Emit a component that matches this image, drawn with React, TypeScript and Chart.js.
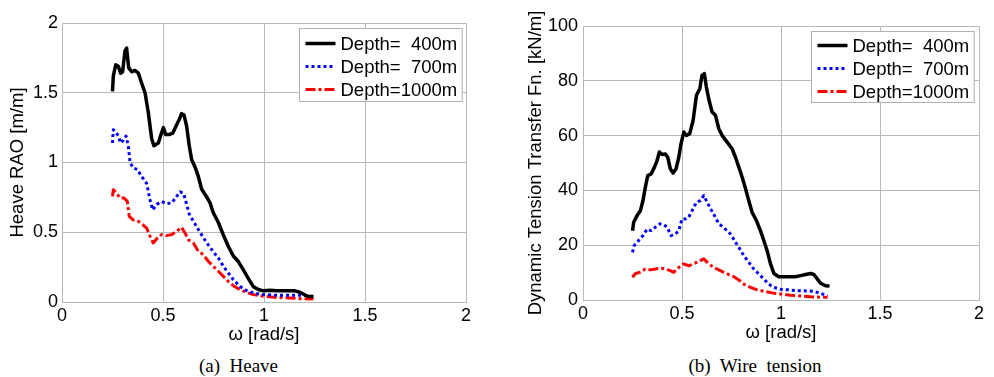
import React, { useEffect, useRef } from 'react';
import { Chart, registerables } from 'chart.js';

Chart.register(...registerables);

const FONT = '"Liberation Sans", Arial, Helvetica, sans-serif';

// ---------- DATA ----------
const seriesLabels = ['Depth=  400m', 'Depth=  700m', 'Depth=1000m'];
const xTickValues = [0, 0.5, 1, 1.5, 2];

// (a) Heave RAO [m/m]
const heave400W = [0.25, 0.254, 0.266, 0.279, 0.29, 0.3, 0.312, 0.32, 0.33, 0.345, 0.361, 0.378, 0.394, 0.411, 0.427, 0.444, 0.455, 0.477, 0.49, 0.502, 0.513, 0.53, 0.548, 0.564, 0.581, 0.592, 0.604, 0.617, 0.63, 0.642, 0.658, 0.675, 0.691, 0.713, 0.733, 0.749, 0.774, 0.799, 0.823, 0.848, 0.873, 0.898, 0.922, 0.947, 0.972, 0.997, 1.03, 1.063, 1.112, 1.153, 1.178, 1.203, 1.219, 1.245];
const heave400 = [1.51, 1.62, 1.70, 1.69, 1.64, 1.65, 1.80, 1.82, 1.68, 1.65, 1.66, 1.64, 1.57, 1.50, 1.36, 1.17, 1.12, 1.14, 1.20, 1.25, 1.20, 1.20, 1.21, 1.26, 1.31, 1.35, 1.34, 1.26, 1.12, 1.02, 0.97, 0.90, 0.81, 0.76, 0.71, 0.64, 0.57, 0.48, 0.40, 0.33, 0.29, 0.23, 0.17, 0.11, 0.09, 0.08, 0.085, 0.08, 0.08, 0.08, 0.07, 0.05, 0.04, 0.04];

const heave700W = [0.25, 0.254, 0.266, 0.279, 0.29, 0.304, 0.317, 0.328, 0.337, 0.353, 0.373, 0.394, 0.419, 0.436, 0.449, 0.469, 0.493, 0.518, 0.543, 0.564, 0.584, 0.601, 0.617, 0.63, 0.65, 0.675, 0.7, 0.724, 0.749, 0.774, 0.799, 0.823, 0.848, 0.881, 0.914, 0.947, 0.997, 1.063, 1.129, 1.178, 1.219, 1.245];
const heave700 = [1.14, 1.235, 1.22, 1.19, 1.14, 1.16, 1.19, 1.12, 1.0, 0.96, 0.95, 0.90, 0.85, 0.73, 0.66, 0.70, 0.72, 0.705, 0.71, 0.75, 0.79, 0.78, 0.70, 0.63, 0.58, 0.52, 0.46, 0.41, 0.36, 0.315, 0.256, 0.208, 0.16, 0.112, 0.081, 0.065, 0.053, 0.048, 0.048, 0.048, 0.045, 0.036];

const heave1000W = [0.25, 0.254, 0.271, 0.287, 0.307, 0.323, 0.333, 0.35, 0.37, 0.394, 0.419, 0.436, 0.452, 0.472, 0.493, 0.518, 0.543, 0.568, 0.592, 0.609, 0.625, 0.65, 0.675, 0.7, 0.724, 0.749, 0.774, 0.799, 0.823, 0.848, 0.881, 0.914, 0.947, 0.997, 1.063, 1.129, 1.178, 1.228, 1.245];
const heave1000 = [0.757, 0.805, 0.78, 0.746, 0.746, 0.722, 0.614, 0.59, 0.585, 0.562, 0.53, 0.471, 0.423, 0.459, 0.483, 0.476, 0.483, 0.507, 0.535, 0.495, 0.447, 0.423, 0.363, 0.339, 0.292, 0.256, 0.22, 0.184, 0.148, 0.117, 0.088, 0.069, 0.053, 0.041, 0.033, 0.029, 0.024, 0.022, 0.024];

// (b) Dynamic Tension Transfer Fn. [kN/m]
const tension400W = [0.25, 0.256, 0.273, 0.29, 0.303, 0.315, 0.327, 0.344, 0.361, 0.374, 0.386, 0.399, 0.416, 0.428, 0.441, 0.455, 0.47, 0.484, 0.495, 0.509, 0.522, 0.539, 0.556, 0.573, 0.59, 0.601, 0.613, 0.623, 0.637, 0.652, 0.669, 0.686, 0.703, 0.728, 0.753, 0.77, 0.787, 0.804, 0.821, 0.837, 0.854, 0.876, 0.896, 0.913, 0.93, 0.947, 0.964, 0.989, 1.031, 1.073, 1.099, 1.124, 1.149, 1.166, 1.183, 1.2, 1.225, 1.245];
const tension400 = [25.3, 28.4, 30.8, 32.6, 36.3, 41.2, 45.4, 46.0, 48.5, 50.9, 54.0, 53.1, 53.3, 52.1, 47.9, 46.3, 47.9, 52.1, 57.0, 61.3, 60.0, 60.7, 65.5, 74.7, 77.1, 82.0, 82.6, 77.7, 72.8, 68.6, 67.4, 62.5, 60.0, 57.6, 55.2, 52.1, 48.5, 44.8, 40.6, 36.3, 32.0, 29.0, 25.3, 21.7, 18.0, 13.2, 9.7, 8.5, 8.5, 8.5, 8.9, 9.3, 9.7, 9.3, 7.7, 6.1, 5.2, 5.1];

const tension700W = [0.25, 0.259, 0.281, 0.303, 0.324, 0.344, 0.366, 0.388, 0.408, 0.425, 0.445, 0.467, 0.484, 0.5, 0.517, 0.534, 0.551, 0.573, 0.593, 0.61, 0.627, 0.644, 0.664, 0.686, 0.708, 0.728, 0.745, 0.765, 0.787, 0.812, 0.837, 0.863, 0.888, 0.913, 0.938, 0.964, 0.997, 1.04, 1.082, 1.132, 1.166, 1.2, 1.235];
const tension700 = [17.4, 19.9, 21.7, 23.5, 25.9, 25.3, 26.6, 27.8, 27.5, 26.6, 23.5, 24.1, 25.3, 29.6, 29.6, 30.2, 32.6, 35.7, 36.3, 38.1, 35.7, 33.3, 30.8, 27.8, 26.6, 25.3, 24.1, 21.7, 19.2, 16.2, 13.8, 11.3, 9.5, 7.7, 5.8, 4.6, 3.9, 3.7, 3.4, 3.3, 3.2, 2.4, 1.6];

const tension1000W = [0.25, 0.265, 0.29, 0.315, 0.34, 0.366, 0.391, 0.416, 0.441, 0.458, 0.484, 0.509, 0.534, 0.559, 0.585, 0.61, 0.635, 0.66, 0.686, 0.711, 0.736, 0.762, 0.787, 0.812, 0.846, 0.88, 0.913, 0.955, 0.997, 1.048, 1.099, 1.149, 1.2, 1.235];
const tension1000 = [8.3, 9.7, 10.1, 11.3, 11.0, 11.3, 11.7, 11.3, 10.7, 10.1, 11.9, 13.2, 12.5, 13.2, 14.1, 15.0, 13.2, 11.9, 11.0, 10.1, 9.3, 8.5, 7.3, 5.8, 4.6, 3.7, 3.2, 2.6, 2.2, 1.7, 1.5, 1.2, 1.0, 1.0];

// ---------- STYLES ----------
const seriesColors = ['#000000', '#0000ff', '#ff0000'];
const seriesWidths = [3.5, 3, 3];
const seriesDashes = [[], [3, 3], [10, 3, 3, 3]];
const GRID = '#b8b8b8';

const pts = (xs: number[], ys: number[]) => xs.map((x, i) => ({ x, y: ys[i] }));
const fmt = (v: any) => String(Number(v));

const boxLegend = {
  id: 'boxLegend',
  afterDraw(chart: any, _args: any, opts: any) {
    const { ctx, chartArea } = chart;
    ctx.save();
    ctx.font = `${opts.fontSize}px ${FONT}`;
    const ds = chart.data.datasets;
    const textW = Math.max(...ds.map((d: any) => ctx.measureText(d.label).width));
    const w = opts.padL + opts.sample + opts.gap + textW + opts.padR;
    const h = opts.height;
    const x1 = Math.round(chartArea.right - opts.offsetRight - w) + 0.5;
    const y1 = Math.round(chartArea.top + opts.offsetTop) + 0.5;
    ctx.fillStyle = '#ffffff';
    ctx.fillRect(x1, y1, w, h);
    ctx.strokeStyle = '#b0b0b0';
    ctx.lineWidth = 1;
    ctx.setLineDash([]);
    ctx.strokeRect(x1, y1, w, h);
    ds.forEach((d: any, i: number) => {
      const yy = y1 + opts.firstRow + i * opts.rowGap;
      ctx.beginPath();
      ctx.strokeStyle = d.borderColor;
      ctx.lineWidth = d.borderWidth;
      ctx.setLineDash(d.borderDash || []);
      ctx.moveTo(x1 + opts.padL, yy);
      ctx.lineTo(x1 + opts.padL + opts.sample, yy);
      ctx.stroke();
      ctx.setLineDash([]);
      ctx.fillStyle = '#000000';
      ctx.textAlign = 'left';
      ctx.textBaseline = 'middle';
      ctx.fillText(d.label, x1 + opts.padL + opts.sample + opts.gap, yy + 1);
    });
    ctx.restore();
  },
};

type Geo = {
  yWidth: number; padTop: number; padRight: number; xHeight: number;
  yTitlePad: number; xTitlePad: number; xTickPad: number; yTickPad: number;
  legendTop: number; legendRight: number; legendH: number; legendFirst: number;
};

function makeConfig(series: { x: number; y: number }[][], yMax: number, yStep: number, yTitle: string, geo: Geo): any {
  return {
    type: 'line',
    data: {
      datasets: series.map((data, i) => ({
        label: seriesLabels[i],
        data,
        borderColor: seriesColors[i],
        backgroundColor: seriesColors[i],
        borderWidth: seriesWidths[i],
        borderDash: seriesDashes[i],
        borderJoinStyle: 'round',
        borderCapStyle: 'butt',
        pointRadius: 0,
        tension: 0,
        fill: false,
      })),
    },
    options: {
      responsive: false,
      animation: false,
      devicePixelRatio: 1,
      layout: { padding: { left: 0, top: geo.padTop, right: geo.padRight, bottom: 0 } },
      plugins: {
        legend: { display: false },
        tooltip: { enabled: false },
        boxLegend: {
          fontSize: 18.5, padL: 6, sample: 30, gap: 5, padR: 5,
          height: geo.legendH, offsetTop: geo.legendTop, offsetRight: geo.legendRight,
          firstRow: geo.legendFirst, rowGap: 23,
        },
      },
      scales: {
        x: {
          type: 'linear',
          min: 0,
          max: 2,
          afterBuildTicks: (s: any) => { s.ticks = xTickValues.map((v) => ({ value: v })); },
          afterFit: (s: any) => { s.height = geo.xHeight; },
          grid: { color: GRID, lineWidth: 1, drawTicks: false },
          border: { display: true, color: GRID },
          ticks: { color: '#000', font: { family: FONT, size: 18 }, padding: geo.xTickPad, maxRotation: 0, callback: fmt },
          title: { display: true, text: 'ω [rad/s]', color: '#000', font: { family: FONT, size: 18.5 }, padding: { top: 0, bottom: geo.xTitlePad } },
        },
        y: {
          type: 'linear',
          min: 0,
          max: yMax,
          ticks: { stepSize: yStep, color: '#000', font: { family: FONT, size: 18 }, padding: geo.yTickPad, callback: fmt },
          afterFit: (s: any) => { s.width = geo.yWidth; },
          grid: { color: GRID, lineWidth: 1, drawTicks: false },
          border: { display: true, color: GRID },
          title: { display: true, text: yTitle, color: '#000', font: { family: FONT, size: 18.5 }, padding: { top: geo.yTitlePad, bottom: 0 } },
        },
      },
    },
    plugins: [boxLegend],
  };
}

function ChartCanvas({ config, left }: { config: any; left: number }) {
  const ref = useRef<HTMLCanvasElement | null>(null);
  useEffect(() => {
    if (!ref.current) return;
    const chart = new Chart(ref.current, config);
    return () => chart.destroy();
  }, [config]);
  return (
    <canvas
      ref={ref}
      width={497}
      height={350}
      style={{ position: 'absolute', left, top: 0, width: 497, height: 350 }}
    />
  );
}

const heaveConfig = makeConfig(
  [pts(heave400W, heave400), pts(heave700W, heave700), pts(heave1000W, heave1000)],
  2, 0.5, 'Heave RAO [m/m]',
  { yWidth: 62, padTop: 23, padRight: 31, xHeight: 48, yTitlePad: 7, xTitlePad: 4, xTickPad: 3.5, yTickPad: 4,
    legendTop: 5, legendRight: 4, legendH: 73, legendFirst: 15 }
);

const tensionConfig = makeConfig(
  [pts(tension400W, tension400), pts(tension700W, tension700), pts(tension1000W, tension1000)],
  100, 20, 'Dynamic Tension Transfer Fn. [kN/m]',
  { yWidth: 86, padTop: 26, padRight: 15, xHeight: 50, yTitlePad: 27.5, xTitlePad: 5.5, xTickPad: 3, yTickPad: 5,
    legendTop: 5, legendRight: 5, legendH: 71, legendFirst: 14 }
);

const captionStyle: React.CSSProperties = {
  position: 'absolute',
  top: 355,
  width: 240,
  textAlign: 'center',
  fontFamily: '"Liberation Serif", "Times New Roman", serif',
  fontSize: 19,
  lineHeight: '22px',
  whiteSpace: 'pre',
  color: '#000',
};

export default function App() {
  return (
    <div style={{ position: 'absolute', left: 0, top: 0, width: 994, height: 377, background: '#fff', overflow: 'hidden' }}>
      <ChartCanvas config={heaveConfig} left={0} />
      <ChartCanvas config={tensionConfig} left={497} />
      <div style={{ ...captionStyle, left: 238.5 - 120 }}>(a)  Heave</div>
      <div style={{ ...captionStyle, left: 755 - 120 }}>(b)  Wire  tension</div>
    </div>
  );
}
